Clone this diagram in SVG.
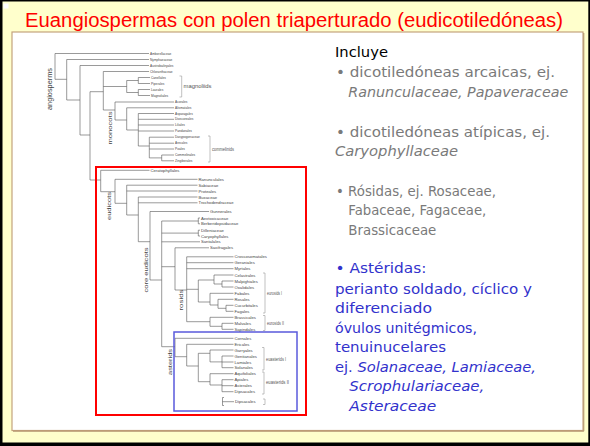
<svg xmlns="http://www.w3.org/2000/svg" width="590" height="446" viewBox="0 0 590 446">
<style>
.ttl{font-family:"Liberation Sans",Arial,sans-serif;font-size:20px;fill:#FF0000}
.bd{font-family:"DejaVu Sans",sans-serif;font-size:14.5px}
.k{fill:#000}
.g{fill:#7A7A7A}
.b{fill:#3232CC}
.it{font-style:italic}
.lf{font-family:"Liberation Sans",Arial,sans-serif;font-size:4.2px;fill:#444}
.sm{font-size:3.2px}
.grp{font-family:"Liberation Sans",Arial,sans-serif;font-size:6px;fill:#444;text-anchor:middle}
.brl{font-family:"Liberation Sans",Arial,sans-serif;font-size:4.5px;fill:#555}
.ln{fill:none;stroke:#555;stroke-width:0.6}
.bk{fill:none;stroke:#999;stroke-width:0.6}
</style>
<g id="frame">
<rect x="0" y="0" width="590" height="446" fill="#000"/>
<rect x="2.5" y="1.5" width="585.8" height="441" fill="#FFFFCC"/>
<rect x="3.5" y="3.5" width="5" height="5" fill="#fff"/>
<rect x="12" y="32" width="571" height="398.5" fill="#fff" stroke="#C4A37D" stroke-width="1.2"/>
<path d="M583.8 33V431.2H13" fill="none" stroke="#B08F6A" stroke-width="1"/>
</g>
<g id="title"><text class="ttl" x="25" y="26.5" textLength="538" lengthAdjust="spacingAndGlyphs">Euangiospermas con polen triaperturado (eudicotiledóneas)</text></g>
<g id="connectors">
<path class="ln" d="M55 53.5V79.3M55 53.5H149M55 79.3H66.7M66.7 59.5V100M66.7 59.5H149M66.7 100H80M80 65.5V135M80 65.5H149M80 135H90M90 91.7V180M90 91.7H103.3M90 180H100.7M103.3 71.5V110M103.3 71.5H149M103.3 86.5H126.7M103.3 110H115M126.7 80.5V92.5M126.7 80.5H138.3M126.7 92.5H138.3M138.3 77.5V83.5M138.3 77.5H150M138.3 83.5H150M138.3 89.5V95.5M138.3 89.5H150M138.3 95.5H150M115 102V120M115 102H174M115 120H126.7M126.7 107.8V130M126.7 107.8H174M126.7 130H138.3M138.3 113.5V146M138.3 113.5H174M138.3 119.3H174M138.3 125H174M138.3 131H174M138.3 146H149.3M149.3 137.2V157.9M149.3 137.2H174M149.3 143.2H174M149.3 149H174M149.3 157.9H161.7M161.7 155V160.8M161.7 155H174M161.7 160.8H174M100.7 170.3V191.7M100.7 170.3H149.5M100.7 191.7H115M115 179.3V203.3M115 179.3H197.5M115 203.3H126.7M126.7 185.2V215M126.7 185.2H197.5M126.7 191H197.5M126.7 215H138.3M138.3 197V241.7M138.3 197H197.5M138.3 202.8H197.5M138.3 241.7H150M150 211.5V280M150 211.5H209M150 280H161.7M161.7 221V346.7M161.7 221H198.3M161.7 233.1H198.3M161.7 241.8H200M161.7 266.7H175M161.7 346.7H175M198.3 218V223.8M198.3 218H200M198.3 223.8H200M198.3 230.2V236M198.3 230.2H200M198.3 236H200M175 247.8V290M175 247.8H209M175 290H186.7M186.7 256.8V321.7M186.7 256.8H233.5M186.7 262.7H233.5M186.7 268.7H233.5M186.7 289.3H198.3M186.7 321.7H210M198.3 280V302M198.3 280H214M198.3 302H210M214 275V284M214 275H233.5M214 284H222M222 281V287M222 281H233.5M222 287H233.5M210 293.3V305M210 293.3H233.5M210 305H218M218 299.3V308.3M218 299.3H233.5M218 308.3H226M226 305.3V311.3M226 305.3H233.5M226 311.3H233.5M210 317.3V326.3M210 317.3H233.5M210 326.3H222M222 323.3V329.3M222 323.3H233.5M222 329.3H233.5M175 338.3V356.7M175 338.3H233.5M175 356.7H186.7M186.7 344.3V366M186.7 344.3H233.5M186.7 366H198.3M198.3 353.3V381.7M198.3 353.3H210M198.3 381.7H210M210 350V361.9M210 350H233.5M210 361.9H222M222 356V367.7M222 356H233.5M222 362H233.5M222 367.7H233.5M210 373.7V385M210 373.7H233.5M210 385H222M222 379.7V391.7M222 379.7H233.5M222 385.7H233.5M222 391.7H233.5M224 397.5H222.5V405.5H224M222.5 401.7H234"/>
<path class="bk" d="M179.5 76H181.7V97H179.5M208 136H210V162H208M263 273H265V313H263M263 315.5H265V330.5H263M262 347.5H264V370H262M262 372H264V394H262M263 399H265V404.5H263"/>
</g>
<g id="highlight-boxes">
<rect x="96" y="167" width="210" height="248" fill="none" stroke="#FF0000" stroke-width="2"/>
<rect x="174" y="332" width="123" height="79" fill="none" stroke="#5A5ADC" stroke-width="1.5"/>
</g>
<g id="clade-labels">
<text class="grp" style="font-size:7px" transform="rotate(-90 49 89)" x="49" y="91.5" textLength="42" lengthAdjust="spacingAndGlyphs">angiosperms</text>
<text class="grp" transform="rotate(-90 109.5 128)" x="109.5" y="130" textLength="33" lengthAdjust="spacingAndGlyphs">monocots</text>
<text class="grp" transform="rotate(-90 109 206)" x="109" y="208" textLength="28" lengthAdjust="spacingAndGlyphs">eudicots</text>
<text class="grp" transform="rotate(-90 145.5 270)" x="145.5" y="272" textLength="45" lengthAdjust="spacingAndGlyphs">core eudicots</text>
<text class="grp" transform="rotate(-90 181 300)" x="181" y="302" textLength="21" lengthAdjust="spacingAndGlyphs">rosids</text>
<text class="grp" transform="rotate(-90 169.5 362)" x="169.5" y="364" textLength="26" lengthAdjust="spacingAndGlyphs">asterids</text>
<text class="brl" x="183.5" y="88.3" textLength="28" lengthAdjust="spacingAndGlyphs">magnoliids</text>
<text class="brl" x="212" y="150.5" textLength="22" lengthAdjust="spacingAndGlyphs">commelinids</text>
<text class="brl" x="267" y="294.5" textLength="15" lengthAdjust="spacingAndGlyphs">eurosids I</text>
<text class="brl" x="267" y="324.5" textLength="17" lengthAdjust="spacingAndGlyphs">eurosids II</text>
<text class="brl" x="266" y="360.5" textLength="20" lengthAdjust="spacingAndGlyphs">euasterids I</text>
<text class="brl" x="266" y="384" textLength="23" lengthAdjust="spacingAndGlyphs">euasterids II</text>
</g>
<g id="leaf-amborellaceae"><text class="lf sm" x="150" y="54.6">Amborellaceae</text></g>
<g id="leaf-nymphaeaceae"><text class="lf sm" x="150" y="60.6">Nymphaeaceae</text></g>
<g id="leaf-austrobaileyales"><text class="lf sm" x="150" y="66.6">Austrobaileyales</text></g>
<g id="leaf-chloranthaceae"><text class="lf sm" x="150" y="72.6">Chloranthaceae</text></g>
<g id="leaf-canellales"><text class="lf sm" x="151" y="78.6">Canellales</text></g>
<g id="leaf-piperales"><text class="lf sm" x="151" y="84.6">Piperales</text></g>
<g id="leaf-laurales"><text class="lf sm" x="151" y="90.6">Laurales</text></g>
<g id="leaf-magnoliales"><text class="lf sm" x="151" y="96.6">Magnoliales</text></g>
<g id="leaf-acorales"><text class="lf sm" x="175" y="103.1">Acorales</text></g>
<g id="leaf-alismatales"><text class="lf sm" x="175" y="108.9">Alismatales</text></g>
<g id="leaf-asparagales"><text class="lf sm" x="175" y="114.6">Asparagales</text></g>
<g id="leaf-dioscoreales"><text class="lf sm" x="175" y="120.4">Dioscoreales</text></g>
<g id="leaf-liliales"><text class="lf sm" x="175" y="126.1">Liliales</text></g>
<g id="leaf-pandanales"><text class="lf sm" x="175" y="132.1">Pandanales</text></g>
<g id="leaf-dasypogonaceae"><text class="lf sm" x="175" y="138.3">Dasypogonaceae</text></g>
<g id="leaf-arecales"><text class="lf sm" x="175" y="144.3">Arecales</text></g>
<g id="leaf-poales"><text class="lf sm" x="175" y="150.1">Poales</text></g>
<g id="leaf-commelinales"><text class="lf sm" x="175" y="156.1">Commelinales</text></g>
<g id="leaf-zingiberales"><text class="lf sm" x="175" y="161.9">Zingiberales</text></g>
<g id="leaf-ceratophyllales"><text class="lf" x="150.5" y="171.8">Ceratophyllales</text></g>
<g id="leaf-ranunculales"><text class="lf" x="198.5" y="180.8">Ranunculales</text></g>
<g id="leaf-sabiaceae"><text class="lf" x="198.5" y="186.7">Sabiaceae</text></g>
<g id="leaf-proteales"><text class="lf" x="198.5" y="192.5">Proteales</text></g>
<g id="leaf-buxaceae"><text class="lf" x="198.5" y="198.5">Buxaceae</text></g>
<g id="leaf-trochodendraceae"><text class="lf" x="198.5" y="204.3">Trochodendraceae</text></g>
<g id="leaf-gunnerales"><text class="lf" x="210" y="213">Gunnerales</text></g>
<g id="leaf-aextoxicaceae"><text class="lf" x="201" y="219.5">Aextoxicaceae</text></g>
<g id="leaf-berberidopsidaceae"><text class="lf" x="201" y="225.3">Berberidopsidaceae</text></g>
<g id="leaf-dilleniaceae"><text class="lf" x="201" y="231.7">Dilleniaceae</text></g>
<g id="leaf-caryophyllales"><text class="lf" x="201" y="237.5">Caryophyllales</text></g>
<g id="leaf-santalales"><text class="lf" x="201" y="243.3">Santalales</text></g>
<g id="leaf-saxifragales"><text class="lf" x="210" y="249.3">Saxifragales</text></g>
<g id="leaf-crossosomatales"><text class="lf" x="234.5" y="258.3">Crossosomatales</text></g>
<g id="leaf-geraniales"><text class="lf" x="234.5" y="264.2">Geraniales</text></g>
<g id="leaf-myrtales"><text class="lf" x="234.5" y="270.2">Myrtales</text></g>
<g id="leaf-celastrales"><text class="lf" x="234.5" y="276.5">Celastrales</text></g>
<g id="leaf-malpighiales"><text class="lf" x="234.5" y="282.5">Malpighiales</text></g>
<g id="leaf-oxalidales"><text class="lf" x="234.5" y="288.5">Oxalidales</text></g>
<g id="leaf-fabales"><text class="lf" x="234.5" y="294.8">Fabales</text></g>
<g id="leaf-rosales"><text class="lf" x="234.5" y="300.8">Rosales</text></g>
<g id="leaf-cucurbitales"><text class="lf" x="234.5" y="306.8">Cucurbitales</text></g>
<g id="leaf-fagales"><text class="lf" x="234.5" y="312.8">Fagales</text></g>
<g id="leaf-brassicales"><text class="lf" x="234.5" y="318.8">Brassicales</text></g>
<g id="leaf-malvales"><text class="lf" x="234.5" y="324.8">Malvales</text></g>
<g id="leaf-sapindales"><text class="lf" x="234.5" y="330.8">Sapindales</text></g>
<g id="leaf-cornales"><text class="lf" x="234.5" y="339.8">Cornales</text></g>
<g id="leaf-ericales"><text class="lf" x="234.5" y="345.8">Ericales</text></g>
<g id="leaf-garryales"><text class="lf" x="234.5" y="351.5">Garryales</text></g>
<g id="leaf-gentianales"><text class="lf" x="234.5" y="357.5">Gentianales</text></g>
<g id="leaf-lamiales"><text class="lf" x="234.5" y="363.5">Lamiales</text></g>
<g id="leaf-solanales"><text class="lf" x="234.5" y="369.2">Solanales</text></g>
<g id="leaf-aquifoliales"><text class="lf" x="234.5" y="375.2">Aquifoliales</text></g>
<g id="leaf-apiales"><text class="lf" x="234.5" y="381.2">Apiales</text></g>
<g id="leaf-asterales"><text class="lf" x="234.5" y="387.2">Asterales</text></g>
<g id="leaf-dipsacales"><text class="lf" x="234.5" y="393.2">Dipsacales</text></g>
<g id="leaf-dipsacales-2"><text class="lf" x="235" y="403.2">Dipsacales</text></g>
<g id="notes">
<text class="bd k" x="335" y="56.5" textLength="53" lengthAdjust="spacingAndGlyphs">Incluye</text>
<text class="bd g" x="336" y="77" textLength="219" lengthAdjust="spacingAndGlyphs">• dicotiledóneas arcaicas, ej.</text>
<text class="bd g it" x="348.3" y="96.5" textLength="220" lengthAdjust="spacingAndGlyphs">Ranunculaceae, Papaveraceae</text>
<text class="bd g" x="336" y="136.5" textLength="214" lengthAdjust="spacingAndGlyphs">• dicotiledóneas atípicas, ej.</text>
<text class="bd g it" x="335" y="156" textLength="123" lengthAdjust="spacingAndGlyphs">Caryophyllaceae</text>
<text class="bd g" x="336" y="195.5" textLength="160" lengthAdjust="spacingAndGlyphs">• Rósidas, ej. Rosaceae,</text>
<text class="bd g" x="348.3" y="215" textLength="138" lengthAdjust="spacingAndGlyphs">Fabaceae, Fagaceae,</text>
<text class="bd g" x="348.3" y="234.5" textLength="88" lengthAdjust="spacingAndGlyphs">Brassicaceae</text>
<text class="bd b" x="335.5" y="273" textLength="91" lengthAdjust="spacingAndGlyphs">• Astéridas:</text>
<text class="bd b" x="335" y="293.5" textLength="197" lengthAdjust="spacingAndGlyphs">perianto soldado, cíclico y</text>
<text class="bd b" x="335" y="313" textLength="97" lengthAdjust="spacingAndGlyphs">diferenciado</text>
<text class="bd b" x="335" y="332.5" textLength="142" lengthAdjust="spacingAndGlyphs">óvulos unitégmicos,</text>
<text class="bd b" x="335" y="352" textLength="111" lengthAdjust="spacingAndGlyphs">tenuinucelares</text>
<text class="bd b" x="335" y="371.5" textLength="201" lengthAdjust="spacingAndGlyphs">ej. <tspan class="it">Solanaceae, Lamiaceae,</tspan></text>
<text class="bd b it" x="349.3" y="391" textLength="135" lengthAdjust="spacingAndGlyphs">Scrophulariaceae,</text>
<text class="bd b it" x="349.3" y="410.5" textLength="87" lengthAdjust="spacingAndGlyphs">Asteraceae</text>
</g>
</svg>
